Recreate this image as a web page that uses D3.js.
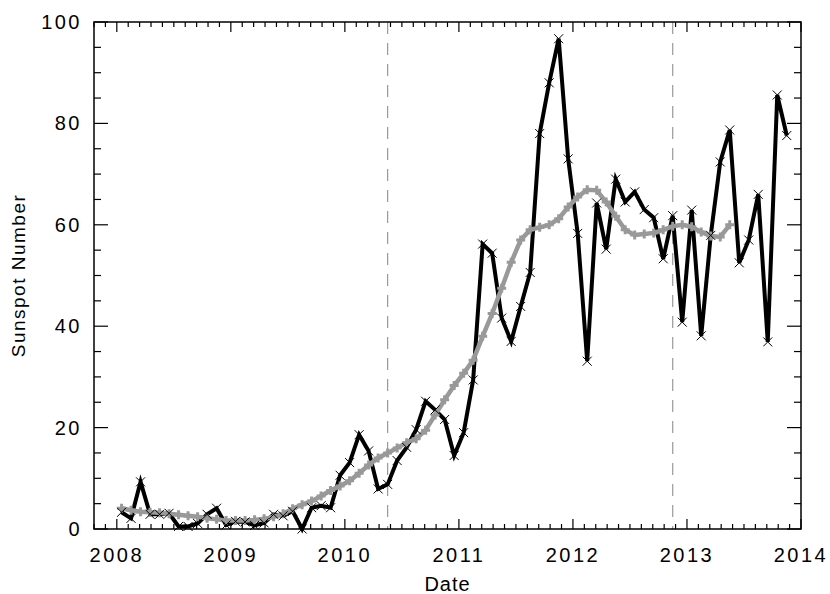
<!DOCTYPE html>
<html>
<head>
<meta charset="utf-8">
<script src="https://cdn.jsdelivr.net/npm/d3@7"></script>
<style>
  html, body { margin: 0; padding: 0; background: #fff; }
  svg text { font-family: "Liberation Sans", Arial, sans-serif; fill: #000; }
</style>
</head>
<body>
<div id="chart"></div>
<script>
// monthly sunspot number, Jan 2008 .. Nov 2013
var monthly = [
    3.3, 2.1, 9.3, 2.9, 2.9, 3.1, 0.5, 0.5, 1.1, 2.9, 4.1, 0.8,
    1.5, 1.4, 0.7, 1.2, 2.9, 2.6, 3.5, 0.0, 4.2, 4.6, 4.2, 10.6,
    13.1, 18.6, 15.4, 7.9, 8.8, 13.5, 16.1, 19.6, 25.2, 23.5, 21.6, 14.5,
    19.0, 29.4, 56.2, 54.4, 41.6, 37.0, 43.9, 50.6, 78.0, 88.0, 96.7, 73.0,
    58.3, 33.1, 64.3, 55.2, 69.0, 64.5, 66.5, 63.0, 61.4, 53.3, 61.8, 40.8,
    62.9, 38.1, 57.9, 72.4, 78.7, 52.5, 57.0, 66.0, 36.9, 85.6, 77.6
];
// 13-month smoothed, Jan 2008 .. May 2013
var smoothed = [
    4.1, 3.7, 3.4, 3.3, 3.2, 3.0, 2.8, 2.6, 2.4, 2.1, 1.9, 1.7,
    1.7, 1.7, 1.8, 2.0, 2.4, 3.0, 4.0, 4.8, 5.5, 6.5, 7.6, 8.5,
    9.5, 11.0, 12.6, 14.0, 15.0, 16.0, 17.0, 17.8, 19.5, 22.5, 25.5, 28.3,
    30.7, 33.3, 38.0, 42.5, 47.5, 52.6, 57.0, 59.0, 59.5, 60.0, 61.2, 63.5,
    65.5, 66.9, 66.8, 64.5, 61.7, 59.0, 58.0, 58.2, 58.4, 59.0, 59.7, 60.0,
    59.6, 58.6, 57.8, 57.6, 60.0
];
var startYear = 2008;
var markerDates = [2010.375, 2012.875];   // dashed verticals
var yearTicks = [2008, 2009, 2010, 2011, 2012, 2013, 2014];
var valueTicks = [0, 20, 40, 60, 80, 100];

var width = 830, height = 594;
var margin = { left: 94, right: 29, top: 22, bottom: 65 };

var svg = d3.select('#chart').append('svg')
    .attr('width', width)
    .attr('height', height);

var x = d3.scaleLinear().domain([2007.8, 2014]).range([margin.left, width - margin.right]);
var y = d3.scaleLinear().domain([0, 100]).range([height - margin.bottom, margin.top]);

function toDate(i) { return startYear + (i + 0.5) / 12; }

var x0 = x.range()[0], x1 = x.range()[1];
var y0 = y.range()[0], y1 = y.range()[1];

// dashed vertical lines
svg.selectAll('line.mark')
    .data(markerDates)
    .enter().append('line')
    .attr('class', 'mark')
    .attr('x1', d => x(d)).attr('x2', d => x(d))
    .attr('y1', y1).attr('y2', y0)
    .attr('stroke', '#999')
    .attr('stroke-width', 1.2)
    .attr('stroke-dasharray', '12,9');

// ticks on all four sides (inward), minor every 0.1 yr / 5 units
var minorX = d3.range(20078, 20141, 1).map(d => d / 10);
var ticksG = svg.append('g').attr('stroke', '#000').attr('stroke-width', 1.2);
minorX.forEach(function (t) {
    var major = Math.abs(t - Math.round(t)) < 1e-6;
    var len = major ? 10 : 5;
    ticksG.append('line').attr('x1', x(t)).attr('x2', x(t)).attr('y1', y0).attr('y2', y0 - len);
    ticksG.append('line').attr('x1', x(t)).attr('x2', x(t)).attr('y1', y1).attr('y2', y1 + len);
});
d3.range(0, 101, 5).forEach(function (v) {
    var len = v % 20 === 0 ? 14 : 7;
    ticksG.append('line').attr('x1', x0).attr('x2', x0 + len).attr('y1', y(v)).attr('y2', y(v));
    ticksG.append('line').attr('x1', x1).attr('x2', x1 - len).attr('y1', y(v)).attr('y2', y(v));
});

// lines
var monthlyPts = monthly.map((v, i) => [toDate(i), v]);
var smoothPts = smoothed.map((v, i) => [toDate(i), v]);
var line = d3.line().x(d => x(d[0])).y(d => y(d[1]));

svg.append('path')
    .datum(monthlyPts)
    .attr('d', line)
    .attr('fill', 'none')
    .attr('stroke', '#000')
    .attr('stroke-width', 4)
    .attr('stroke-linejoin', 'miter');

svg.append('path')
    .datum(smoothPts)
    .attr('d', line)
    .attr('fill', 'none')
    .attr('stroke', '#999')
    .attr('stroke-width', 4.5);

// + markers on smoothed series
var s = 4.5;
svg.append('g').selectAll('path')
    .data(smoothPts)
    .enter().append('path')
    .attr('d', d => `M${x(d[0]) - s},${y(d[1])}h${2 * s}M${x(d[0])},${y(d[1]) - s}v${2 * s}`)
    .attr('stroke', '#999')
    .attr('stroke-width', 3);

// x markers on monthly series
svg.append('g').selectAll('path')
    .data(monthlyPts)
    .enter().append('path')
    .attr('d', d => `M${x(d[0]) - s},${y(d[1]) - s}l${2 * s},${2 * s}M${x(d[0]) - s},${y(d[1]) + s}l${2 * s},${-2 * s}`)
    .attr('stroke', '#000')
    .attr('stroke-width', 1);

// frame
svg.append('rect')
    .attr('x', x0).attr('y', y1)
    .attr('width', x1 - x0).attr('height', y0 - y1)
    .attr('fill', 'none')
    .attr('stroke', '#000')
    .attr('stroke-width', 1.5);

// tick labels
svg.selectAll('text.xl')
    .data(yearTicks)
    .enter().append('text')
    .attr('class', 'xl')
    .attr('x', d => x(d))
    .attr('y', y0 + 33)
    .attr('text-anchor', 'middle')
    .attr('font-size', 20)
    .attr('letter-spacing', 2.5)
    .text(d => d);

svg.selectAll('text.yl')
    .data(valueTicks)
    .enter().append('text')
    .attr('class', 'yl')
    .attr('x', x0 - 12)
    .attr('y', d => y(d) + 7)
    .attr('text-anchor', 'end')
    .attr('font-size', 20)
    .attr('letter-spacing', 2.5)
    .text(d => d);

// axis titles
svg.append('text')
    .attr('x', (x0 + x1) / 2)
    .attr('y', height - 3)
    .attr('text-anchor', 'middle')
    .attr('font-size', 20)
    .attr('letter-spacing', 1)
    .text('Date');

svg.append('text')
    .attr('transform', `translate(25, ${(y0 + y1) / 2}) rotate(-90)`)
    .attr('text-anchor', 'middle')
    .attr('font-size', 19)
    .attr('letter-spacing', 1.5)
    .text('Sunspot Number');
</script>
</body>
</html>
